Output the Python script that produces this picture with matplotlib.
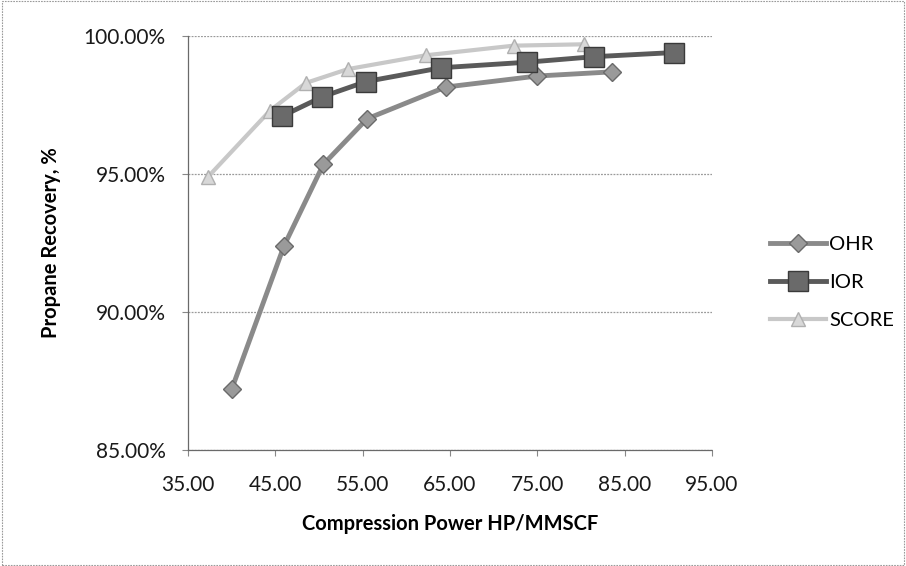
import matplotlib
matplotlib.use("Agg")
import matplotlib.pyplot as plt
from matplotlib.ticker import FuncFormatter
from matplotlib.patches import Rectangle

# ---- data ----
ohr_x = [40.0, 46.0, 50.5, 55.5, 64.5, 75.0, 83.5]
ohr_y = [87.2, 92.4, 95.35, 97.0, 98.15, 98.55, 98.7]

ior_x = [45.8, 50.4, 55.4, 64.0, 73.8, 81.5, 90.6]
ior_y = [97.1, 97.8, 98.35, 98.85, 99.05, 99.25, 99.4]

score_x = [37.3, 44.4, 48.5, 53.3, 62.2, 72.3, 80.3]
score_y = [94.9, 97.3, 98.3, 98.8, 99.3, 99.65, 99.7]

x_ticks = [35, 45, 55, 65, 75, 85, 95]
y_ticks = [85, 90, 95, 100]

series_names = ["OHR", "IOR", "SCORE"]
x_label = "Compression Power HP/MMSCF"
y_label = "Propane Recovery, %"

plt.rcParams['font.family'] = ['Lato', 'DejaVu Sans']

fig = plt.figure(figsize=(9.06, 5.66), dpi=100)
ax = fig.add_axes([188/906, 1-450/566, (712-188)/906, (450-36)/566])

ax.plot(ohr_x, ohr_y, color='#8a8a8a', lw=3.5, marker='D', ms=9,
        mfc='#9a9a9a', mec='#6a6a6a', mew=1, label=series_names[0], zorder=3)
ax.plot(ior_x, ior_y, color='#5a5a5a', lw=3.5, marker='s', ms=14,
        mfc='#6a6a6a', mec='#3a3a3a', mew=1, label=series_names[1], zorder=4)
ax.plot(score_x, score_y, color='#c8c8c8', lw=3, marker='^', ms=10,
        mfc='#d8d8d8', mec='#b0b0b0', mew=1, label=series_names[2], zorder=2)

ax.set_xlim(35, 95)
ax.set_ylim(85, 100)
ax.set_xticks(x_ticks)
ax.set_yticks(y_ticks)
ax.xaxis.set_major_formatter(FuncFormatter(lambda v, p: f"{v:.2f}"))
ax.yaxis.set_major_formatter(FuncFormatter(lambda v, p: f"{v:.2f}%"))

ax.grid(axis='y', color='#9a9a9a', lw=0.9, ls=(0, (1.5, 1)))
ax.set_axisbelow(True)
for s in ['top', 'right']:
    ax.spines[s].set_visible(False)
for s in ['left', 'bottom']:
    ax.spines[s].set_color('#6a6a6a')
    ax.spines[s].set_linewidth(0.9)
    ax.spines[s].set_linestyle((0, (1.5, 1)))

ax.tick_params(axis='both', labelsize=15, length=4, width=0.8,
               direction='out', colors='#888888', labelcolor='#1a1a1a')
ax.tick_params(axis='x', pad=14)
ax.tick_params(axis='y', pad=12)

ax.set_xlabel(x_label, fontsize=14.5, fontweight='bold', labelpad=14)
ax.set_ylabel(y_label, fontsize=14.5, fontweight='bold', labelpad=16)

leg = ax.legend(loc='center left', bbox_to_anchor=(1.095, 0.405), frameon=False,
                fontsize=14.5, handlelength=2.8, handletextpad=0.15,
                labelspacing=1.05, borderaxespad=0.0)

fig.patches.append(Rectangle((0.002, 0.002), 0.996, 0.996, transform=fig.transFigure,
                             fill=False, ec='#9a9a9a', lw=0.8, ls=(0, (1.5, 1))))

fig.savefig("out.png", dpi=100)
